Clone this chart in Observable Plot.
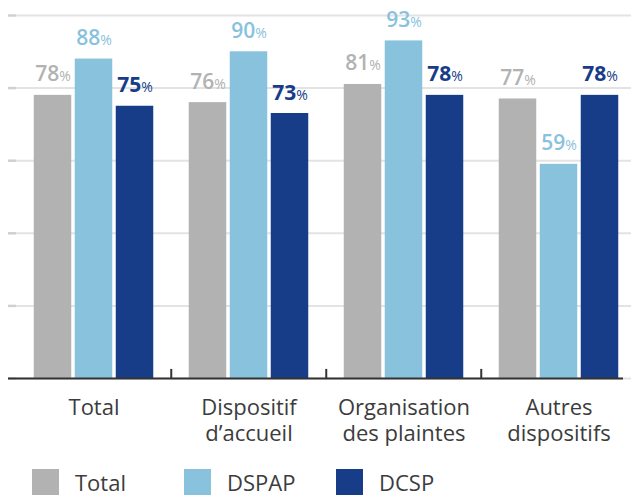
<!DOCTYPE html>
<html><head><meta charset="utf-8">
<script src="https://cdn.jsdelivr.net/npm/d3@7"></script>
<script src="https://cdn.jsdelivr.net/npm/@observablehq/plot@0.6"></script>
<style>
body{margin:0;background:#fff;font-family:"Open Sans",sans-serif;}
#legend{display:flex;margin-left:32px;margin-top:14px;}
.item{display:flex;align-items:center;width:152px;font-size:22px;color:#3c3c3c;line-height:27px;}
.sw{width:27px;height:27px;margin-right:16px;flex:none;}
</style></head><body><div id="chart"></div><div id="legend"></div>
<script>
const categories = ["Total", "Dispositif\nd’accueil", "Organisation\ndes plaintes", "Autres\ndispositifs"];
const series = ["Total", "DSPAP", "DCSP"];
const totalValues = [78, 76, 81, 77];
const dspapValues = [88, 90, 93, 59];
const dcspValues = [75, 73, 78, 78];
const colors = ["#b2b2b2", "#89c2dc", "#173c88"];
const yTicks = [0, 20, 40, 60, 80, 100];

const seriesValues = [totalValues, dspapValues, dcspValues];
const rowsBySeries = seriesValues.map((vals, s) =>
  categories.map((c, i) => ({category: c, series: series[s], value: vals[i]})));

const band = 155.5, half = band / 2;
const layout = [
  {inL: 17.75, inR: 99.75, dx: -41, weight: 600},
  {inL: 58.75, inR: 58.75, dx: 0, weight: 600},
  {inL: 99.75, inR: 17.75, dx: 41, weight: 700}
];

const marks = [
  Plot.gridY(yTicks, {stroke: "#e3e3e3", strokeOpacity: 1, strokeWidth: 2}),
  Plot.axisY({ticks: yTicks, tickSize: 8, tickFormat: () => "", label: null, stroke: "#d0d0d0", strokeWidth: 2.5})
];
rowsBySeries.forEach((rows, s) => {
  marks.push(Plot.barY(rows, {x: "category", y: "value", fill: colors[s], insetLeft: layout[s].inL, insetRight: layout[s].inR}));
});
marks.push(Plot.ruleY([0], {stroke: "#333", strokeWidth: 2, insetLeft: -8, insetRight: 8}));
marks.push(Plot.ruleX(categories.slice(1), {x: d => d, dx: -half, y1: 0, y2: 2.5, stroke: "#333", strokeWidth: 2}));
rowsBySeries.forEach((rows, s) => {
  marks.push(Plot.text(rows, {x: "category", y: "value", text: d => String(d.value), dx: layout[s].dx, dy: -14, lineAnchor: "bottom", fill: colors[s], fontSize: 21, fontWeight: layout[s].weight}));
});
marks.push(Plot.text(categories, {x: d => d, frameAnchor: "bottom", dy: 18.5, lineAnchor: "top", lineHeight: 1.18, fontSize: 22, fill: "#3c3c3c"}));

const chart = Plot.plot({
  width: 631, height: 455,
  marginTop: 15, marginBottom: 77, marginLeft: 16, marginRight: 0,
  style: {fontFamily: "Open Sans, sans-serif", overflow: "visible", background: "#fff"},
  x: {domain: categories, range: [14.75, 636.75], padding: 0, axis: null},
  y: {domain: [0, 100], axis: null},
  marks
});
d3.select(chart).selectAll("text").each(function() {
  if (/^\d+$/.test(this.textContent)) {
    d3.select(this).append("tspan").attr("font-size", 14).attr("font-weight", 500).text("%");
  }
});
document.getElementById("chart").appendChild(chart);

const legend = d3.select("#legend");
series.forEach((s, i) => {
  const it = legend.append("div").attr("class", "item");
  it.append("div").attr("class", "sw").style("background", colors[i]);
  it.append("span").text(s);
});
</script></body></html>
